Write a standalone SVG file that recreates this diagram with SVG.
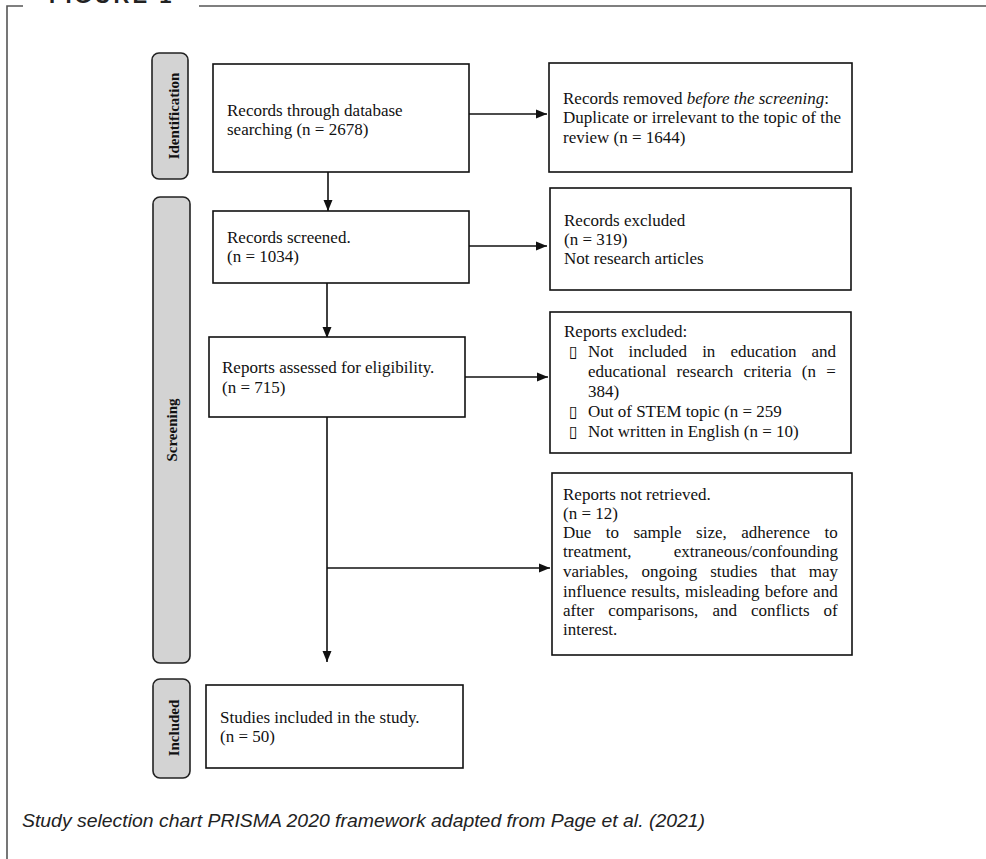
<svg xmlns="http://www.w3.org/2000/svg" width="986" height="859" viewBox="0 0 986 859">
<style>
.frame{stroke:#555;stroke-width:1.6;fill:none}
.box{fill:#fff;stroke:#111;stroke-width:1.6}
.pill{fill:#d3d3d3;stroke:#222;stroke-width:1.6}
.t{font-family:"Liberation Serif","Times New Roman",serif;font-size:17px;fill:#111}
.lab{font-family:"Liberation Serif","Times New Roman",serif;font-size:15px;font-weight:bold;fill:#111;text-anchor:middle}
.con{stroke:#111;stroke-width:1.6;fill:none}
.bul{font-family:"DejaVu Sans",sans-serif;font-size:16px;fill:#111}
</style>
<defs>
<marker id="ah" markerUnits="userSpaceOnUse" markerWidth="11" markerHeight="10" refX="11" refY="5" orient="auto">
<path d="M0,0.5 L11,5 L0,9.5 z" fill="#111"/>
</marker>
</defs>
<rect width="986" height="859" fill="#fff"/>
<g id="frame">
<path class="frame" d="M7,859 V6 H23 M199,6 H986"/>
<text x="49" y="3" font-family="Liberation Sans,Arial,sans-serif" font-weight="bold" font-size="22" letter-spacing="3" fill="#222">FIGURE 1</text>
</g>
<g id="stage-identification">
<rect class="pill" x="152" y="53" width="36" height="126" rx="7"/>
<text class="lab" transform="translate(179,116) rotate(-90)">Identification</text>
</g>
<g id="stage-screening">
<rect class="pill" x="153" y="197" width="37" height="466" rx="7"/>
<text class="lab" transform="translate(177,430) rotate(-90)">Screening</text>
</g>
<g id="stage-included">
<rect class="pill" x="153" y="679" width="37" height="99" rx="7"/>
<text class="lab" transform="translate(179,728) rotate(-90)">Included</text>
</g>
<g id="connectors">
<line class="con" x1="469" y1="114" x2="547" y2="114" marker-end="url(#ah)"/>
<line class="con" x1="328" y1="172" x2="328" y2="211" marker-end="url(#ah)"/>
<line class="con" x1="469" y1="246" x2="547" y2="246" marker-end="url(#ah)"/>
<line class="con" x1="327" y1="283" x2="327" y2="338" marker-end="url(#ah)"/>
<line class="con" x1="465" y1="377" x2="548" y2="377" marker-end="url(#ah)"/>
<line class="con" x1="327" y1="417" x2="327" y2="662" marker-end="url(#ah)"/>
<line class="con" x1="327" y1="568" x2="550" y2="568" marker-end="url(#ah)"/>
</g>
<g id="records-db">
<rect class="box" x="213" y="64" width="256" height="108"/>
<text class="t" x="227" y="116">Records through database</text>
<text class="t" x="227" y="135">searching (n = 2678)</text>
</g>
<g id="records-removed">
<rect class="box" x="549" y="63" width="303" height="109"/>
<text class="t" x="563" y="104">Records removed <tspan font-style="italic">before the screening</tspan>:</text>
<text class="t" x="563" y="123">Duplicate or irrelevant to the topic of the</text>
<text class="t" x="563" y="143">review (n = 1644)</text>
</g>
<g id="records-screened">
<rect class="box" x="213" y="211" width="256" height="72"/>
<text class="t" x="227" y="243">Records screened.</text>
<text class="t" x="227" y="262">(n = 1034)</text>
</g>
<g id="records-excluded">
<rect class="box" x="550" y="188" width="301" height="102"/>
<text class="t" x="564" y="226">Records excluded</text>
<text class="t" x="564" y="245">(n = 319)</text>
<text class="t" x="564" y="264">Not research articles</text>
</g>
<g id="reports-assessed">
<rect class="box" x="209" y="337" width="256" height="80"/>
<text class="t" x="222" y="373">Reports assessed for eligibility.</text>
<text class="t" x="222" y="393">(n = 715)</text>
</g>
<g id="reports-excluded">
<rect class="box" x="550" y="312" width="301" height="141"/>
<text class="t" x="564" y="337">Reports excluded:</text>
<text class="bul" x="569" y="357">▯</text>
<text class="bul" x="569" y="417">▯</text>
<text class="bul" x="569" y="437">▯</text>
<text class="t" x="588" y="357" word-spacing="10.8">Not included in education and</text>
<text class="t" x="588" y="377" word-spacing="6">educational research criteria (n =</text>
<text class="t" x="588" y="397">384)</text>
<text class="t" x="588" y="417">Out of STEM topic (n = 259</text>
<text class="t" x="588" y="437">Not written in English (n = 10)</text>
</g>
<g id="reports-not-retrieved">
<rect class="box" x="552" y="473" width="300" height="182"/>
<text class="t" x="563" y="500">Reports not retrieved.</text>
<text class="t" x="563" y="519">(n = 12)</text>
<text class="t" x="563" y="538" word-spacing="10.2">Due to sample size, adherence to</text>
<text class="t" x="563" y="557">treatment,</text>
<text class="t" x="838" y="557" text-anchor="end">extraneous/confounding</text>
<text class="t" x="563" y="577" word-spacing="8.7">variables, ongoing studies that may</text>
<text class="t" x="563" y="597" word-spacing="0.8">influence results, misleading before and</text>
<text class="t" x="563" y="616" word-spacing="9.8">after comparisons, and conflicts of</text>
<text class="t" x="563" y="635">interest.</text>
</g>
<g id="studies-included">
<rect class="box" x="206" y="685" width="257" height="83"/>
<text class="t" x="220" y="723">Studies included in the study.</text>
<text class="t" x="220" y="742">(n = 50)</text>
</g>
<text x="22" y="827" font-family="Liberation Sans,Arial,sans-serif" font-style="italic" font-size="19" fill="#222" textLength="683" lengthAdjust="spacingAndGlyphs">Study selection chart PRISMA 2020 framework adapted from Page et al. (2021)</text>
</svg>
